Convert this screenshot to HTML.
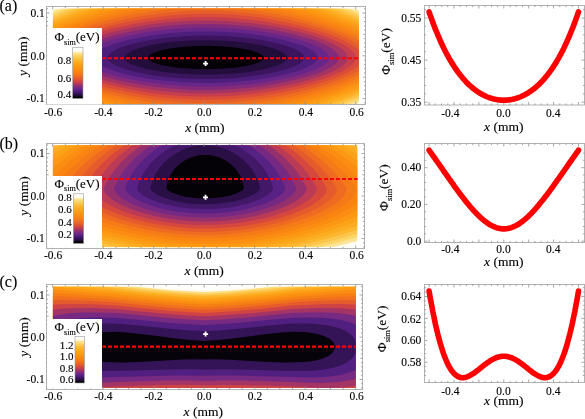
<!DOCTYPE html>
<html><head><meta charset="utf-8"><style>
html,body{margin:0;padding:0;background:#fff;}
svg{display:block;filter:blur(0.35px);}
text{font-family:"Liberation Serif",serif;fill:#000;stroke:#000;stroke-width:0.12px;}
</style></head><body>
<svg width="585" height="419" viewBox="0 0 585 419">
<defs><clipPath id="clipa"><rect x="52.8" y="8.5" width="306.2" height="95.5"/></clipPath>
<linearGradient id="cbga" x1="0" y1="0" x2="0" y2="1"><stop offset="0%" stop-color="#ffffff"/><stop offset="2.5%" stop-color="#fffdf8"/><stop offset="5%" stop-color="#fffcf2"/><stop offset="7.5%" stop-color="#fffaeb"/><stop offset="10%" stop-color="#fde8a1"/><stop offset="12.5%" stop-color="#fddf86"/><stop offset="15%" stop-color="#fdd66d"/><stop offset="17.5%" stop-color="#fcce5c"/><stop offset="20%" stop-color="#fcc64c"/><stop offset="22.5%" stop-color="#fcbe3c"/><stop offset="25%" stop-color="#fcb62e"/><stop offset="27.5%" stop-color="#fcb026"/><stop offset="30%" stop-color="#fcaa1e"/><stop offset="32.5%" stop-color="#fca418"/><stop offset="35%" stop-color="#fc9f16"/><stop offset="37.5%" stop-color="#fc9914"/><stop offset="40%" stop-color="#fb9413"/><stop offset="42.5%" stop-color="#fb8f12"/><stop offset="45%" stop-color="#fa8912"/><stop offset="47.5%" stop-color="#f98413"/><stop offset="50%" stop-color="#f77e16"/><stop offset="52.5%" stop-color="#f47819"/><stop offset="55%" stop-color="#f1701e"/><stop offset="57.5%" stop-color="#ed6724"/><stop offset="60%" stop-color="#e75e2a"/><stop offset="62.5%" stop-color="#e15531"/><stop offset="65%" stop-color="#d84a3c"/><stop offset="67.5%" stop-color="#cc4048"/><stop offset="70%" stop-color="#bb3b55"/><stop offset="72.5%" stop-color="#a73563"/><stop offset="75%" stop-color="#922f70"/><stop offset="77.5%" stop-color="#7f2b7c"/><stop offset="80%" stop-color="#702885"/><stop offset="82.5%" stop-color="#5f2489"/><stop offset="85%" stop-color="#501f7f"/><stop offset="87.5%" stop-color="#45196d"/><stop offset="90%" stop-color="#38145c"/><stop offset="92.5%" stop-color="#2b0f47"/><stop offset="95%" stop-color="#19092a"/><stop offset="97.5%" stop-color="#040207"/><stop offset="100%" stop-color="#000000"/></linearGradient>
<clipPath id="clipb"><rect x="52.8" y="145.3" width="304.7" height="102"/></clipPath>
<linearGradient id="cbgb" x1="0" y1="0" x2="0" y2="1"><stop offset="0%" stop-color="#ffffff"/><stop offset="2.5%" stop-color="#fffdf8"/><stop offset="5%" stop-color="#fffcf2"/><stop offset="7.5%" stop-color="#fffaeb"/><stop offset="10%" stop-color="#fde8a1"/><stop offset="12.5%" stop-color="#fddf86"/><stop offset="15%" stop-color="#fdd66d"/><stop offset="17.5%" stop-color="#fcce5c"/><stop offset="20%" stop-color="#fcc64c"/><stop offset="22.5%" stop-color="#fcbe3c"/><stop offset="25%" stop-color="#fcb62e"/><stop offset="27.5%" stop-color="#fcb026"/><stop offset="30%" stop-color="#fcaa1e"/><stop offset="32.5%" stop-color="#fca418"/><stop offset="35%" stop-color="#fc9f16"/><stop offset="37.5%" stop-color="#fc9914"/><stop offset="40%" stop-color="#fb9413"/><stop offset="42.5%" stop-color="#fb8f12"/><stop offset="45%" stop-color="#fa8912"/><stop offset="47.5%" stop-color="#f98413"/><stop offset="50%" stop-color="#f77e16"/><stop offset="52.5%" stop-color="#f47819"/><stop offset="55%" stop-color="#f1701e"/><stop offset="57.5%" stop-color="#ed6724"/><stop offset="60%" stop-color="#e75e2a"/><stop offset="62.5%" stop-color="#e15531"/><stop offset="65%" stop-color="#d84a3c"/><stop offset="67.5%" stop-color="#cc4048"/><stop offset="70%" stop-color="#bb3b55"/><stop offset="72.5%" stop-color="#a73563"/><stop offset="75%" stop-color="#922f70"/><stop offset="77.5%" stop-color="#7f2b7c"/><stop offset="80%" stop-color="#702885"/><stop offset="82.5%" stop-color="#5f2489"/><stop offset="85%" stop-color="#501f7f"/><stop offset="87.5%" stop-color="#45196d"/><stop offset="90%" stop-color="#38145c"/><stop offset="92.5%" stop-color="#2b0f47"/><stop offset="95%" stop-color="#19092a"/><stop offset="97.5%" stop-color="#040207"/><stop offset="100%" stop-color="#000000"/></linearGradient>
<clipPath id="clipc"><rect x="52.8" y="286.5" width="303" height="101.5"/></clipPath>
<linearGradient id="cbgc" x1="0" y1="0" x2="0" y2="1"><stop offset="0%" stop-color="#ffffff"/><stop offset="2.5%" stop-color="#fffdf8"/><stop offset="5%" stop-color="#fffcf2"/><stop offset="7.5%" stop-color="#fffaeb"/><stop offset="10%" stop-color="#fde8a1"/><stop offset="12.5%" stop-color="#fddf86"/><stop offset="15%" stop-color="#fdd66d"/><stop offset="17.5%" stop-color="#fcce5c"/><stop offset="20%" stop-color="#fcc64c"/><stop offset="22.5%" stop-color="#fcbe3c"/><stop offset="25%" stop-color="#fcb62e"/><stop offset="27.5%" stop-color="#fcb026"/><stop offset="30%" stop-color="#fcaa1e"/><stop offset="32.5%" stop-color="#fca418"/><stop offset="35%" stop-color="#fc9f16"/><stop offset="37.5%" stop-color="#fc9914"/><stop offset="40%" stop-color="#fb9413"/><stop offset="42.5%" stop-color="#fb8f12"/><stop offset="45%" stop-color="#fa8912"/><stop offset="47.5%" stop-color="#f98413"/><stop offset="50%" stop-color="#f77e16"/><stop offset="52.5%" stop-color="#f47819"/><stop offset="55%" stop-color="#f1701e"/><stop offset="57.5%" stop-color="#ed6724"/><stop offset="60%" stop-color="#e75e2a"/><stop offset="62.5%" stop-color="#e15531"/><stop offset="65%" stop-color="#d84a3c"/><stop offset="67.5%" stop-color="#cc4048"/><stop offset="70%" stop-color="#bb3b55"/><stop offset="72.5%" stop-color="#a73563"/><stop offset="75%" stop-color="#922f70"/><stop offset="77.5%" stop-color="#7f2b7c"/><stop offset="80%" stop-color="#702885"/><stop offset="82.5%" stop-color="#5f2489"/><stop offset="85%" stop-color="#501f7f"/><stop offset="87.5%" stop-color="#45196d"/><stop offset="90%" stop-color="#38145c"/><stop offset="92.5%" stop-color="#2b0f47"/><stop offset="95%" stop-color="#19092a"/><stop offset="97.5%" stop-color="#040207"/><stop offset="100%" stop-color="#000000"/></linearGradient></defs>
<rect width="585" height="419" fill="#fff"/>
<g clip-path="url(#clipa)">
<rect x="52.8" y="8.5" width="306.2" height="95.5" fill="#fffefb"/>
<path fill="#fffbf1" fill-rule="evenodd" d="M52.8 8.5L358.8 8.5 358.8 104 52.8 104 52.8 8.5Z"/>
<path fill="#fdeaa7" fill-rule="evenodd" d="M56 9L57.2 8.5 354.6 8.5 358.8 10.3 358.8 103.2 356.8 104 55 104 52.8 103.1 52.8 10.4 56 9Z"/>
<path fill="#fddb78" fill-rule="evenodd" d="M61.7 9L63 8.5 348.8 8.5 358.8 12.7 358.8 100.9 351.1 104 60.7 104 52.8 100.8 52.8 12.8 61.7 9Z"/>
<path fill="#fccd59" fill-rule="evenodd" d="M67.8 9L69.1 8.5 342.7 8.5 358.8 15.1 358.8 98.6 345.1 104 66.7 104 52.8 98.5 52.8 15.2 67.8 9Z"/>
<path fill="#fcbf3e" fill-rule="evenodd" d="M74.4 9L75.7 8.5 336.1 8.5 347.8 13 358.8 17.6 358.8 96.2 338.6 104 73.2 104 62.8 100.1 52.8 96.1 52.8 17.7 63.3 13.3 74.4 9Z"/>
<path fill="#fcb329" fill-rule="evenodd" d="M81.5 9L82.9 8.5 328.9 8.5 344.3 14.2 358.8 20.1 358.8 93.8 345.5 99 331.6 104 80.2 104 66.3 99 52.8 93.7 52.8 20.2 66.8 14.4 81.5 9Z"/>
<path fill="#fca91d" fill-rule="evenodd" d="M89.1 9L90.7 8.5 321.1 8.5 340.8 15.4 358.8 22.7 358.8 91.3 341.8 97.9 324 104 87.8 104 69.8 97.8 52.8 91.3 52.8 22.7 70.8 15.5 89.1 9Z"/>
<path fill="#fc9f16" fill-rule="evenodd" d="M97.6 9L99.2 8.5 312.6 8.5 314.2 9 325.8 12.7 337.3 16.7 348.3 20.9 358.8 25.3 358.8 88.8 348.3 93 337.8 96.8 326.8 100.5 315.6 104 96.2 104 92.3 102.8 81.8 99.5 71.8 96.1 62.2 92.5 52.8 88.7 52.8 25.4 63.3 21 74.3 16.8 85.8 12.8 97.6 9Z"/>
<path fill="#fc9613" fill-rule="evenodd" d="M107.1 9L108.9 8.5 302.9 8.5 316.3 12.4 327.8 16.1 338.8 20 349.3 24 358.8 28 358.8 86.2 346.8 91 333.8 95.6 320.3 100 306.3 104 105.5 104 90.3 99.6 80.3 96.4 70.4 93 61.3 89.6 52.8 86.2 52.8 28.1 65.3 22.9 78.8 17.9 92.8 13.2 107.1 9Z"/>
<path fill="#fa8d12" fill-rule="evenodd" d="M117.9 9L119.9 8.5 291.9 8.5 305.3 12 318.3 15.8 329.3 19.3 339.6 23 349.8 27 358.8 30.8 358.8 83.5 344.8 89.1 329.3 94.5 312.8 99.5 295.7 104 116.1 104 102.3 100.4 88.3 96.4 78.8 93.3 69.4 90 60.8 86.8 52.8 83.5 52.8 30.9 67.3 24.9 83.5 19 100.8 13.6 117.9 9Z"/>
<path fill="#f98413" fill-rule="evenodd" d="M130.6 9L133.1 8.5 278.7 8.5 289.3 10.8 299.8 13.4 310.3 16.2 320.8 19.4 331.3 22.8 341.3 26.4 350.3 30 358.8 33.8 358.8 80.7 351 84 342.3 87.3 333.3 90.5 323.8 93.6 313.8 96.5 303.8 99.2 293.3 101.8 283.2 104 128.6 104 117.8 101.6 107.3 99 96.3 96 86.2 93 68.6 87 60.3 83.8 52.8 80.6 52.8 33.9 60.8 30.3 69.8 26.7 79.3 23.3 89.3 19.9 99.3 16.9 109.8 13.9 120.3 11.3 130.6 9Z"/>
<path fill="#f57a18" fill-rule="evenodd" d="M146.7 9L149.8 8.5 262 8.5 277.8 11.3 293.3 14.7 308.8 18.7 324.3 23.4 333.8 26.6 342.9 30 351.4 33.5 358.8 36.9 358.8 77.7 350.1 81.5 339.7 85.5 328.3 89.4 316.8 92.9 304.8 96.2 292.3 99.2 279.8 101.8 267.7 104 144.1 104 128.8 101.2 113.3 97.8 98.3 93.8 83.3 89.3 74.9 86.5 66.7 83.5 59.3 80.5 52.8 77.6 52.8 37 62.3 32.7 72.8 28.5 84.1 24.5 96.3 20.6 108.8 17.1 121.3 14 133.8 11.3 146.7 9Z"/>
<path fill="#ef6d20" fill-rule="evenodd" d="M170.3 9L175.8 8.5 236 8.5 249.8 9.9 259.8 11.3 270.3 13 280.8 14.9 290.8 17.1 300.8 19.5 311.3 22.4 321.3 25.4 330.3 28.4 338.8 31.5 346.3 34.5 353.1 37.5 358.8 40.4 358.8 74.4 348.8 79 335.8 84 322.1 88.5 307.3 92.7 291.8 96.4 276.7 99.5 261.3 102 245.7 104 166.1 104 162.3 103.6 151.8 102.2 140.8 100.5 129.8 98.5 119.3 96.3 108.3 93.7 97.8 90.9 87.8 87.9 77.8 84.6 64.2 79.5 58.5 77 52.8 74.3 52.8 40.5 63.3 35.4 76.8 30 91.3 25.1 106.8 20.6 122.8 16.7 138.4 13.5 154.3 10.9 170.3 9Z"/>
<path fill="#e75e2a" fill-rule="evenodd" d="M200.2 10.5L216.8 10.6 233.8 11.5 250.8 13.2 268.3 15.7 285.8 19.1 302.8 23.1 319.8 28 334.8 33.1 342.1 36 348.8 39 354.3 41.8 358.8 44.4 358.8 70.5 353.4 73.5 347.8 76.1 341 79 332.9 82 324.3 84.9 315.6 87.5 306.3 90 296.3 92.5 276.8 96.5 257.3 99.6 247.3 100.8 237.8 101.7 218.8 102.8 200.3 103 181.8 102.3 163.3 100.7 144.8 98.2 125.8 94.7 107.3 90.5 89.5 85.5 81.3 82.8 73.4 80 67.1 77.5 61.5 75 56.5 72.5 52.8 70.4 52.8 44.6 57.1 42 63 39 69.7 36 77.3 33 85.8 30 94.8 27.1 103.8 24.5 113.8 21.9 123.8 19.5 142.8 15.8 152.3 14.4 162.3 13 171.8 12 181.3 11.3 190.8 10.8 200.2 10.5Z"/>
<path fill="#db4d39" fill-rule="evenodd" d="M191.5 14L207.3 13.7 222.8 14.1 238.3 15.1 254.3 16.8 270.3 19.2 285.8 22.2 301.3 25.8 316.1 30 329.6 34.5 341.3 39.2 346.1 41.5 350.7 44 354.3 46.3 357.3 48.5 358.8 49.9 358.8 65.3 355.4 68 351.4 70.5 346.3 73.2 340.1 76 333.3 78.7 325.3 81.5 317.2 84 308.3 86.5 289.8 90.9 270.8 94.5 251.3 97.3 232.3 99 214.8 99.8 197.3 99.8 179.4 99 161.8 97.4 143.9 95 126.3 91.8 108.8 87.9 92.3 83.3 78.3 78.6 67.2 74 62.3 71.6 58.7 69.5 55.7 67.5 52.8 65.1 52.8 50.1 54.5 48.5 57.2 46.5 61.3 43.9 66.8 41 73.3 38 80.9 35 88.8 32.2 97.3 29.5 106.3 26.9 115.8 24.5 134.3 20.5 153.3 17.4 172.3 15.2 181.8 14.5 191.5 14Z"/>
<path fill="#c53e4d" fill-rule="evenodd" d="M187.4 17.5L201.3 17.1 215.3 17.2 229.3 17.8 243.3 18.9 257.3 20.5 271.3 22.7 284.8 25.2 298.3 28.3 311.7 32 323.8 35.9 334.3 40 342.6 44 346 46 349 48 351.4 50 353.3 52 354.6 54 355.4 56 355.6 58 355.4 59.5 354.2 62 352.1 64.5 349.1 67 345.2 69.5 340.4 72 334.9 74.5 328.5 77 321.2 79.5 313.1 82 304.3 84.4 286.3 88.6 267.1 92 257.3 93.4 247.3 94.6 229.8 96 212.8 96.6 195.3 96.6 178.3 95.8 160.8 94.2 143.8 91.9 126.3 88.7 109.8 85 94.3 80.7 87.6 78.5 80.8 76 75.3 73.8 70.3 71.5 65.8 69 62.7 67 59.8 64.6 57.9 62.5 56.8 60.5 56.2 58.5 56.3 56.5 57.2 54 58.5 52 61 49.5 64.3 47 69.2 44 74.2 41.5 80.3 38.8 87.8 36 95.2 33.5 103.5 31 112.8 28.5 130.8 24.5 140.3 22.7 149.8 21.2 168.8 18.9 187.4 17.5Z"/>
<path fill="#a43464" fill-rule="evenodd" d="M200.1 20.5L212.8 20.5 225.8 21 238.8 21.9 251.3 23.1 264.3 24.9 276.8 27 288.9 29.5 301.2 32.5 311.8 35.6 321.9 39 330.5 42.5 337.3 46 342.5 49.5 344.3 51.1 345.9 53 346.8 54.5 347.5 56.5 347.6 58 347.4 59.5 346.3 61.8 344.4 64 341.4 66.5 337.3 69 332.4 71.5 326.8 73.9 320.8 76.1 313.4 78.5 305.8 80.7 297.3 82.9 279.8 86.6 261.3 89.6 242.3 91.8 225.3 93 208.3 93.4 191.3 93.2 174.3 92.2 157.2 90.5 139.8 88 123.3 84.9 107.8 81.2 93.7 77 87.8 74.9 81.8 72.6 77.3 70.5 73.3 68.3 69.7 66 67.4 64 65.7 62 64.6 60 64.2 58 64.4 56 65.2 54 66.7 52 68.8 49.9 72 47.5 76.2 45 81.3 42.5 87.3 40 94.1 37.5 101.8 35 109.8 32.7 118.6 30.5 127.3 28.5 145.3 25.2 163.3 22.8 181.8 21.2 200.1 20.5Z"/>
<path fill="#832b7a" fill-rule="evenodd" d="M200.4 24L212.8 24 224.8 24.4 236.8 25.2 248.8 26.3 260.8 27.9 272.3 29.7 284.1 32 294.8 34.5 305.3 37.4 314.3 40.3 322.4 43.5 328.5 46.5 331.3 48.2 333.8 49.9 335.6 51.5 337 53 338 54.5 338.6 56 338.8 57.5 338.7 59 337.9 61 336.3 63 333.5 65.5 330.4 67.5 325.8 69.9 320.9 72 315.6 74 308.8 76.2 294.3 80.1 277.8 83.6 260.3 86.4 242.3 88.5 226.3 89.6 209.8 90.1 193.3 89.9 176.8 89.1 160.8 87.6 144.8 85.5 128.8 82.6 114.3 79.3 100.8 75.5 90.3 71.8 86.3 70 82.3 68 79.1 66 76.3 63.8 74.6 62 73.4 60 73 58 73.2 56 74.1 54 75.7 52 77.9 50 80.7 48 84.8 45.7 89.4 43.5 95.3 41.1 101.3 39 115.3 34.9 131.8 31.2 148.8 28.2 165.8 26 183.3 24.6 200.4 24Z"/>
<path fill="#682688" fill-rule="evenodd" d="M188.3 28L200.8 27.6 212.8 27.7 224.8 28.1 236.8 28.8 248.8 30 260.5 31.5 272.3 33.4 283.3 35.6 293.8 38.2 303.5 41 311.8 44 318.5 47 323.5 50 325.4 51.5 326.9 53 327.9 54.5 328.6 56 328.9 57.5 328.7 59 327.9 61 326.3 62.9 324.4 64.5 321.3 66.5 317.5 68.5 312.9 70.5 302.8 74 289.7 77.5 275.3 80.5 259.8 83 244.3 84.8 229.3 85.9 214.3 86.5 199.3 86.6 184.3 86 169.3 85 154.3 83.3 139.8 81.1 126.3 78.5 114.2 75.5 102.9 72 94.3 68.5 90.8 66.7 88.1 65 85.8 63.2 84.3 61.5 83.3 59.7 82.9 58 83 56.5 83.9 54.5 85.3 52.6 87 51 89.8 49 93.3 47 97.6 45 102.6 43 113.3 39.5 126.8 36 141.8 33 156.8 30.7 172.3 29.1 188.3 28Z"/>
<path fill="#4e1e7d" fill-rule="evenodd" d="M198.7 31.5L209.3 31.4 220.3 31.7 231.3 32.3 241.8 33.1 252.3 34.3 262.8 35.8 272.5 37.5 281.8 39.5 289.8 41.5 297.9 44 304.5 46.5 309.6 49 313.5 51.5 316.1 54 316.8 55.1 317.3 56.5 317.5 58 317.3 59 316.3 61 315 62.5 312.8 64.2 309.9 66 306.8 67.5 302.3 69.4 292.8 72.5 280.8 75.5 267.8 78 254 80 239.3 81.5 224.8 82.5 210.8 82.9 196.3 82.8 182.3 82.2 167.8 81.1 154 79.5 141.3 77.5 128.8 75 117.4 72 108.8 69.1 101.9 66 99.4 64.5 97.4 63 95.9 61.5 94.9 60 94.4 58.5 94.5 56.5 95.1 55 96.3 53.3 98.3 51.5 100.5 50 103.8 48.1 107.3 46.5 111.8 44.7 117 43 127.8 40 140.8 37.2 154.3 35 168.8 33.2 183.8 32.1 198.7 31.5Z"/>
<path fill="#3a155e" fill-rule="evenodd" d="M187.8 36L198.3 35.6 208.3 35.6 218.8 35.8 228.8 36.3 238.3 37 248.3 38.1 258.3 39.5 267.1 41 275.3 42.7 282.8 44.7 289.8 47 294.8 49 298.8 51.2 301.8 53.5 302.8 54.6 303.6 56 304 57.5 303.9 58.5 303.3 60 302.3 61.3 301 62.5 298.9 64 296.1 65.5 292.8 66.9 285.4 69.5 275.8 72 265.3 74.1 253.1 76 240.3 77.4 227.8 78.4 215.3 78.9 202.8 79 190.3 78.7 178.3 78 165.8 76.9 154.3 75.4 143.2 73.5 133.8 71.5 124.8 69 117.9 66.5 112.8 63.9 110.8 62.5 109.2 61 108.3 59.7 107.9 58.5 107.9 57 108.3 55.7 109.1 54.5 110.5 53 112.5 51.5 115.1 50 121.8 47.1 129.7 44.5 139.8 42 150.8 39.9 162.8 38.1 174.8 36.9 187.8 36Z"/>
<path fill="#230d3a" fill-rule="evenodd" d="M191 40.5L208.3 40.2 225.8 40.8 242.3 42.2 250.3 43.3 257.5 44.5 264.7 46 270.5 47.5 275.3 49 280.2 51 283.3 52.7 285.5 54.5 286.4 55.5 286.9 56.5 287.1 57.5 287 58.5 286.3 60 285.4 61 282.6 63 277.1 65.5 270.8 67.5 262.8 69.4 254.2 71 244.3 72.4 234.3 73.4 223.8 74.1 213.3 74.5 202.3 74.6 191.8 74.3 181.3 73.7 171.3 72.8 160.8 71.5 152.3 70.1 144.8 68.5 137.7 66.5 132.2 64.5 128.4 62.5 125.9 60.5 125.2 59.5 124.7 58 124.8 56.9 125.4 55.5 127.4 53.5 129.3 52.2 131.6 51 136.5 49 143.1 47 151.7 45 160.3 43.5 170.3 42.1 180.8 41.1 191 40.5Z"/>
<path fill="#030106" fill-rule="evenodd" d="M196.4 46L208.8 45.8 221.3 46.3 232.8 47.3 243.3 48.8 251.8 50.6 255.8 51.9 258.6 53 260.8 54.1 262.6 55.5 263.3 56.5 263.6 58 262.9 59.5 261.1 61 258.2 62.5 253.8 64 248.3 65.4 242.4 66.5 235.3 67.5 227.8 68.3 212.3 69.1 196.3 69 181.1 68 173.8 67.2 167.3 66.1 161.8 65 156.4 63.5 152.5 62 150.3 60.8 149.3 60 148.5 59 148.1 57.5 148.8 56 150.4 54.5 153.2 53 157.1 51.5 162.3 50.1 167.3 49 173.8 47.9 181.3 47 188.3 46.4 196.4 46Z"/>
</g>
<rect x="46.5" y="6.5" width="319" height="98" fill="none" stroke="#b2b2b2" stroke-width="1"/>
<path d="M52.7 104.5v-3M52.7 6.5v3M65.3 104.5v-1.6M65.3 6.5v1.6M77.9 104.5v-1.6M77.9 6.5v1.6M90.6 104.5v-1.6M90.6 6.5v1.6M103.2 104.5v-3M103.2 6.5v3M115.8 104.5v-1.6M115.8 6.5v1.6M128.4 104.5v-1.6M128.4 6.5v1.6M141.1 104.5v-1.6M141.1 6.5v1.6M153.7 104.5v-3M153.7 6.5v3M166.3 104.5v-1.6M166.3 6.5v1.6M178.9 104.5v-1.6M178.9 6.5v1.6M191.6 104.5v-1.6M191.6 6.5v1.6M204.2 104.5v-3M204.2 6.5v3M216.8 104.5v-1.6M216.8 6.5v1.6M229.4 104.5v-1.6M229.4 6.5v1.6M242.1 104.5v-1.6M242.1 6.5v1.6M254.7 104.5v-3M254.7 6.5v3M267.3 104.5v-1.6M267.3 6.5v1.6M279.9 104.5v-1.6M279.9 6.5v1.6M292.6 104.5v-1.6M292.6 6.5v1.6M305.2 104.5v-3M305.2 6.5v3M317.8 104.5v-1.6M317.8 6.5v1.6M330.4 104.5v-1.6M330.4 6.5v1.6M343.1 104.5v-1.6M343.1 6.5v1.6M355.7 104.5v-3M355.7 6.5v3M46.5 8.7h1.5M365.5 8.7h-1.5M46.5 13h3M365.5 13h-3M46.5 17.3h1.5M365.5 17.3h-1.5M46.5 21.5h1.5M365.5 21.5h-1.5M46.5 25.8h1.5M365.5 25.8h-1.5M46.5 30.1h1.5M365.5 30.1h-1.5M46.5 34.4h2.2M365.5 34.4h-2.2M46.5 38.7h1.5M365.5 38.7h-1.5M46.5 43h1.5M365.5 43h-1.5M46.5 47.2h1.5M365.5 47.2h-1.5M46.5 51.5h1.5M365.5 51.5h-1.5M46.5 55.8h3M365.5 55.8h-3M46.5 60.1h1.5M365.5 60.1h-1.5M46.5 64.4h1.5M365.5 64.4h-1.5M46.5 68.6h1.5M365.5 68.6h-1.5M46.5 72.9h1.5M365.5 72.9h-1.5M46.5 77.2h2.2M365.5 77.2h-2.2M46.5 81.5h1.5M365.5 81.5h-1.5M46.5 85.8h1.5M365.5 85.8h-1.5M46.5 90.1h1.5M365.5 90.1h-1.5M46.5 94.3h1.5M365.5 94.3h-1.5M46.5 98.6h3M365.5 98.6h-3M46.5 102.9h1.5M365.5 102.9h-1.5" stroke="#909090" stroke-width="0.8" fill="none"/>
<rect x="47.1" y="28" width="54.9" height="76.5" fill="#fff"/>
<rect x="72.7" y="47.6" width="10.3" height="50.9" fill="url(#cbga)"/>
<rect x="72.7" y="47.6" width="10.3" height="50.9" fill="none" stroke="#999" stroke-width="0.6"/>
<text x="71.2" y="63.8" font-size="11" text-anchor="end">0.8</text>
<text x="71.2" y="81.9" font-size="11" text-anchor="end">0.6</text>
<text x="71.2" y="98.2" font-size="11" text-anchor="end">0.4</text>
<text x="54.5" y="41.3" font-size="13" text-anchor="start">&#934;<tspan font-size="8.1" dy="3.6">sim</tspan><tspan dy="-3.6">(eV)</tspan></text>
<path d="M102.5 58.3H359" stroke="#f00" stroke-width="2.1" stroke-dasharray="4 2" stroke-dashoffset="0.5" fill="none"/>
<path d="M203.1 63.6h5M205.6 61.1v5" stroke="#fff" stroke-width="1.8"/>
<text x="44.8" y="16.8" font-size="11.5" text-anchor="end">0.1</text>
<text x="44.8" y="59.7" font-size="11.5" text-anchor="end">0.0</text>
<text x="44.8" y="102.4" font-size="11.5" text-anchor="end">-0.1</text>
<text x="53.1" y="115.7" font-size="11.5" text-anchor="middle">-0.6</text>
<text x="103.3" y="115.7" font-size="11.5" text-anchor="middle">-0.4</text>
<text x="153.6" y="115.7" font-size="11.5" text-anchor="middle">-0.2</text>
<text x="204.2" y="115.7" font-size="11.5" text-anchor="middle">0.0</text>
<text x="255" y="115.7" font-size="11.5" text-anchor="middle">0.2</text>
<text x="305.9" y="115.7" font-size="11.5" text-anchor="middle">0.4</text>
<text x="356.6" y="115.7" font-size="11.5" text-anchor="middle">0.6</text>
<text x="204.9" y="132" font-size="13.5" text-anchor="middle"><tspan font-style="italic">x</tspan> (mm)</text>
<text x="27.5" y="56.2" font-size="13.5" text-anchor="middle" transform="rotate(-90 27.5 56.2)"><tspan font-style="italic">y</tspan> (mm)</text>
<g clip-path="url(#clipb)">
<rect x="52.8" y="145.3" width="304.7" height="102" fill="#fffef9"/>
<path fill="#fffbee" fill-rule="evenodd" d="M52.8 145.3L357.3 145.3 357.3 244.3 345.5 247.3 64.8 247.3 52.8 244.2 52.8 145.3Z"/>
<path fill="#fde496" fill-rule="evenodd" d="M52.8 145.3L357.3 145.3 357.3 240.9 344.6 244.3 332.5 247.3 77.8 247.3 65.7 244.3 52.8 240.8 52.8 145.3Z"/>
<path fill="#fdd569" fill-rule="evenodd" d="M52.8 145.3L357.3 145.3 357.3 237.3 338.3 242.6 319 247.3 91.3 247.3 71.8 242.6 52.8 237.3 52.8 145.3Z"/>
<path fill="#fcc64c" fill-rule="evenodd" d="M52.8 145.3L357.3 145.3 357.3 233.6 344.8 237.4 331.3 241.1 318.3 244.3 304.8 247.3 105.5 247.3 85.3 242.7 65.2 237.3 52.8 233.5 52.8 145.3Z"/>
<path fill="#fcb72f" fill-rule="evenodd" d="M52.8 145.3L357.3 145.3 357.3 229.7 341.3 234.8 324.3 239.6 306.8 243.8 289.5 247.3 120.8 247.3 110.3 245.2 99.2 242.8 78.3 237.5 65.7 233.8 52.8 229.6 52.8 145.3Z"/>
<path fill="#fcac21" fill-rule="evenodd" d="M59.1 145.8L60 145.3 350.3 145.3 357.3 149.1 357.3 225.5 347.8 228.9 337.4 232.3 327.2 235.3 316.1 238.3 305.3 240.9 294.4 243.3 283.3 245.4 272.2 247.3 138.1 247.3 125.8 245.2 113.5 242.8 101.3 240.1 89.3 237 70.3 231.5 52.8 225.4 52.8 149.2 59.1 145.8Z"/>
<path fill="#fca217" fill-rule="evenodd" d="M67.7 145.8L68.6 145.3 341.7 145.3 357.3 154.4 357.3 221 345.8 225.5 333.1 229.8 319.9 233.8 306.6 237.3 292.8 240.5 278.3 243.3 264.3 245.5 250.5 247.3 159.8 247.3 144.3 245.3 128.8 242.7 113.3 239.5 98.3 235.9 85.8 232.5 74.1 228.8 62.7 224.8 52.8 220.9 52.8 154.5 67.7 145.8Z"/>
<path fill="#fc9814" fill-rule="evenodd" d="M76 145.8L76.8 145.3 333.5 145.3 345.9 152.8 357.3 160.5 357.3 216 345.2 221.3 330.8 226.6 315.8 231.3 299.8 235.6 283.8 239.1 267.3 242.1 250.8 244.4 234.3 245.9 218.8 246.8 202.8 247 187.3 246.6 171.3 245.6 155.3 243.8 139.3 241.5 123.3 238.4 107.8 234.9 92.8 230.8 78.3 226.2 65.1 221.3 52.8 215.9 52.8 160.6 63.6 153.3 76 145.8Z"/>
<path fill="#fb8e12" fill-rule="evenodd" d="M84 145.8L84.9 145.3 325.4 145.3 335 151.3 343.1 156.8 350.6 162.3 357.3 167.8 357.3 210.4 346.7 215.8 333.8 221.3 319.8 226.2 305.3 230.6 289.8 234.5 273.8 237.8 257.8 240.4 241.3 242.4 225.8 243.6 210.3 244.1 195.3 244.1 179.8 243.3 164.3 241.9 148.8 239.9 133.3 237.2 117.8 233.9 107.8 231.4 98.8 228.8 90.3 226.2 81.8 223.2 73.8 220.2 65.8 216.8 58.8 213.5 52.8 210.2 52.8 168 59.7 162.3 67.2 156.8 75.3 151.3 84 145.8Z"/>
<path fill="#f98412" fill-rule="evenodd" d="M92 145.8L92.8 145.3 317.5 145.3 329.7 153.3 340.4 161.3 349.6 169.3 357.3 177.1 357.3 203.3 353.3 206.2 349.2 208.8 344.3 211.5 338.7 214.3 326.8 219.5 313.3 224.3 298.4 228.8 282.8 232.7 267 235.8 250.8 238.3 235.8 239.9 220.3 240.9 205.3 241.2 190.3 240.9 174.8 239.9 159.8 238.3 144.3 236 129.3 233 117.6 230.3 105.8 227.1 94.8 223.6 84.4 219.8 74.8 215.8 66.6 211.8 58.7 207.3 52.8 203.2 52.8 177.3 60.7 169.3 69.9 161.3 79.9 153.8 92 145.8Z"/>
<path fill="#f57a18" fill-rule="evenodd" d="M99.9 145.8L100.6 145.3 309.7 145.3 318.6 151.3 326.7 157.3 334 163.3 340.5 169.3 347.5 176.8 354.2 185.3 356.3 188.3 356.6 189.8 356.5 191.3 355.6 193.8 354.1 196.3 351.9 198.8 348.7 201.8 344.7 204.8 340.3 207.7 335.6 210.3 329.7 213.3 323.3 216.2 316.7 218.8 302.3 223.8 286.8 228.1 270.5 231.8 254.8 234.5 239.3 236.5 223.8 237.7 208.3 238.2 192.8 238 177.3 237.1 161.8 235.4 146.3 233 130.4 229.8 114.8 225.8 100.5 221.3 87.3 216.3 81.3 213.6 75.6 210.8 70.8 208.1 66.3 205.3 62.3 202.4 59.4 199.8 56.6 196.8 54.9 194.3 54.1 192.3 53.7 190.8 53.7 189.3 54 188.3 59.9 180.3 65.9 173.3 73 166.3 81.1 159.3 89.6 152.8 99.9 145.8Z"/>
<path fill="#ef6b21" fill-rule="evenodd" d="M107.8 145.8L108.5 145.3 301.8 145.3 310.5 151.3 317.7 156.8 324.2 162.3 330.5 168.3 336.9 175.3 342.7 182.8 346.4 188.3 346.6 189.3 346.5 190.8 345.7 193.3 344.2 195.8 342.1 198.3 338.8 201.3 335.3 204 330.9 206.8 326.5 209.3 321.3 211.9 315.8 214.4 309.3 217 295.5 221.8 281.3 225.8 265.5 229.3 250.8 231.8 235.8 233.6 220.8 234.7 206.3 235.1 191.3 234.8 176.3 233.8 161.3 232.1 146.8 229.7 132.3 226.6 118.1 222.8 104.8 218.5 93.1 213.8 87.7 211.3 82.8 208.8 78.3 206.1 74.1 203.3 70.9 200.8 68.2 198.3 66.1 195.8 64.6 193.3 64 191.8 63.7 190.3 63.8 188.8 64.2 187.8 70.2 179.3 76.5 171.8 82.9 165.3 90.2 158.8 98.5 152.3 107.8 145.8Z"/>
<path fill="#e55b2c" fill-rule="evenodd" d="M115.7 145.8L116.5 145.3 293.8 145.3 301.6 150.8 309.3 156.8 315.5 162.3 321.6 168.3 327.6 175.3 333.1 182.8 336.5 188.3 336.7 189.3 336.6 190.8 335.6 193.3 334 195.8 331.8 198.3 329 200.8 325.6 203.3 321.7 205.8 317.3 208.3 311.8 211 306.6 213.3 300.3 215.8 287.3 220.2 273.3 224 258.8 227 244.8 229.3 230.8 230.8 216.3 231.7 202.3 231.9 188.3 231.4 174.3 230.3 160.3 228.5 146.3 226 132.8 222.9 120.2 219.3 108.7 215.3 98 210.8 89.3 206.2 85.4 203.8 82 201.3 79.3 199 77.1 196.8 75.2 194.3 74.2 192.3 73.6 189.8 73.7 188.8 74 187.8 77.2 182.8 80.4 178.3 83.5 174.3 86.9 170.3 93.2 163.8 99.8 157.8 107.3 151.8 115.7 145.8Z"/>
<path fill="#d6483e" fill-rule="evenodd" d="M123.8 145.8L124.6 145.3 285.7 145.3 293.4 150.8 300.8 156.8 306.8 162.3 312.6 168.3 318.4 175.3 323.5 182.8 326.6 188.3 326.8 189.3 326.6 190.8 325.8 192.8 324.2 195.3 321.9 197.8 319 200.3 315.5 202.8 311.5 205.3 302.7 209.8 291.7 214.3 279.4 218.3 266.3 221.7 252.8 224.5 239.8 226.4 226.3 227.8 212.8 228.5 199.3 228.5 185.8 227.9 172.3 226.6 159.3 224.8 146.3 222.2 134.4 219.3 123.8 216.1 113.4 212.3 104.4 208.3 96.8 204.1 93.3 201.8 90.7 199.8 87.9 197.3 86.1 195.3 84.8 193.3 83.9 191.3 83.5 189.8 83.7 188.3 85.6 184.8 91.2 176.3 97.2 168.8 102.9 162.8 108.9 157.3 116.3 151.3 123.8 145.8Z"/>
<path fill="#bb3b56" fill-rule="evenodd" d="M132.2 145.8L132.9 145.3 277.4 145.3 284.9 150.8 291.6 156.3 297.5 161.8 302.7 167.3 307.9 173.8 312.6 180.8 316.5 187.8 316.8 188.8 316.6 190.3 315.9 192.3 314.2 194.8 312.3 196.8 309.5 199.3 306.3 201.6 302.8 203.8 298.3 206.2 293.9 208.3 283.8 212.4 271.8 216.2 259.5 219.3 246.8 221.7 234.3 223.5 221.8 224.6 209.3 225.1 196.3 225 183.3 224.2 170.8 222.8 158.3 220.8 146.5 218.3 135.8 215.4 126.3 212.3 117.5 208.8 110.2 205.3 104.3 201.8 99 197.8 97 195.8 95.4 193.8 94.2 191.8 93.7 190.3 93.5 188.8 93.8 187.8 97.4 181.3 102 174.3 107.2 167.8 112.3 162.3 118.1 156.8 124.8 151.3 132.2 145.8Z"/>
<path fill="#95306e" fill-rule="evenodd" d="M141 145.8L141.7 145.3 268.6 145.3 275.5 150.3 282.2 155.8 288 161.3 293.5 167.3 298.4 173.8 302.8 180.8 306.4 187.8 306.6 188.8 306.4 190.3 305.4 192.3 304 194.3 301.8 196.6 299.1 198.8 292.8 202.8 284.3 207 274.3 210.8 263.8 214 252 216.8 239.8 219 228.3 220.4 216.3 221.2 204.3 221.5 192.8 221.2 181.3 220.3 169.3 218.8 157.8 216.7 146.8 214.1 138.3 211.6 130.3 208.7 123.3 205.8 116.6 202.3 111.8 199.2 107.7 195.8 105.9 193.8 104.9 192.3 104.1 190.8 103.7 189.3 103.9 187.8 106.4 182.8 109 178.3 112.9 172.3 117.2 166.8 122.3 161.3 128.1 155.8 134.2 150.8 141 145.8Z"/>
<path fill="#752983" fill-rule="evenodd" d="M150.4 145.8L151.2 145.3 259.1 145.3 266.1 150.3 272.3 155.3 278.1 160.8 283.1 166.3 287.6 172.3 291.6 178.8 293.7 182.8 295.9 187.8 296.1 188.8 295.9 189.8 295.3 191.3 293.9 193.3 292 195.3 289.3 197.5 286.7 199.3 283.3 201.3 279.4 203.3 274.9 205.3 265.8 208.6 255.8 211.5 245.3 213.9 233.8 215.8 222.8 217 211.8 217.6 200.8 217.6 189.8 217.1 178.8 216.1 167.8 214.4 157.6 212.3 147.8 209.7 140.6 207.3 134.2 204.8 128.8 202.2 123.6 199.3 119.5 196.3 116.4 193.3 114.8 190.8 114.3 189.3 114.2 188.3 116.9 182.3 120.1 176.3 123.7 170.8 128.1 165.3 132.7 160.3 138 155.3 144.2 150.3 150.4 145.8Z"/>
<path fill="#582184" fill-rule="evenodd" d="M161 145.8L161.8 145.3 248.5 145.3 255.8 150.2 262.3 155.3 268.1 160.8 273 166.3 277.4 172.3 281.1 178.8 283 182.8 285 187.8 285.1 188.8 284.8 189.8 284 191.3 282.4 193.3 280.3 195.2 278.1 196.8 272.1 200.3 264.3 203.7 255.8 206.6 246.3 209.1 236.3 211.1 226.3 212.4 216.3 213.3 206.3 213.6 195.8 213.4 185.8 212.6 175.8 211.4 166.3 209.6 156.8 207.3 148.8 204.8 143.7 202.8 139.3 200.8 135.4 198.8 132.2 196.8 129.3 194.6 127 192.3 125.7 190.3 125.3 189.3 125.2 188.3 127.5 182.3 130.5 176.3 133.9 170.8 138.1 165.3 143.2 159.8 148.6 154.8 154.3 150.3 161 145.8Z"/>
<path fill="#421868" fill-rule="evenodd" d="M173.8 145.8L174.8 145.3 235.5 145.3 242.6 149.3 249.3 154 255.6 159.3 260.8 164.8 265.3 170.8 268.8 176.8 270.9 181.3 272.5 185.8 273.3 188.3 273 189.3 272.2 190.8 270.9 192.3 267.1 195.3 261.3 198.5 254.3 201.4 246.8 203.8 237.8 206 228.8 207.5 219.3 208.6 210.3 209.1 200.8 209.1 191.8 208.6 182.8 207.7 173.8 206.2 165.3 204.3 157.3 201.9 150.7 199.3 145.8 196.9 142.3 194.7 139.4 192.3 137.5 189.8 137.1 188.8 137.1 187.8 139.9 180.3 142.3 175.3 145.3 170.3 148.7 165.8 152.8 161.2 157.5 156.8 162.5 152.8 167.8 149.2 173.8 145.8Z"/>
<path fill="#290f45" fill-rule="evenodd" d="M195.9 145.8L199.4 145.3 210.9 145.3 217.3 146.4 222.3 147.9 227.8 150 232.8 152.6 237.8 155.7 242.5 159.3 246.8 163.3 250.3 167.3 253.4 171.8 256.4 177.3 258.6 182.8 260 187.8 259.9 188.8 259.4 189.8 258.3 191 256.8 192.3 252.3 195.1 246.8 197.5 240.3 199.7 233.3 201.4 225.4 202.8 217.3 203.7 209.3 204.2 201.3 204.2 193.3 203.8 185.3 202.9 177.8 201.6 170.5 199.8 164.3 197.8 158.4 195.3 154.2 192.8 151.8 190.8 150.4 188.8 150.3 187.8 151 185.3 152.8 179.8 155.4 174.3 158.5 169.3 162.2 164.8 165.6 161.3 169.3 158.1 173.3 155.2 177.8 152.4 182.3 150.1 186.8 148.3 191.3 146.8 195.9 145.8Z"/>
<path fill="#040207" fill-rule="evenodd" d="M199.4 155.3L203.3 154.9 207.3 154.9 210.9 155.3 214.8 156.1 218.7 157.3 222.3 158.8 226 160.8 229.3 163 232.3 165.5 235 168.3 237.4 171.3 239.6 174.8 241.3 178.3 242.7 182.3 243.9 187.8 243.7 188.8 242.2 190.3 238.8 192.3 235.3 193.8 230.3 195.4 224.8 196.6 219.3 197.5 213.3 198.1 207.3 198.4 201.3 198.4 195.3 198 189.4 197.3 184.3 196.4 179.7 195.3 175 193.8 171.3 192.2 168.1 190.3 166.6 188.8 166.4 187.8 167.2 183.8 168.1 180.8 169.4 177.3 171 174.3 172.9 171.3 175.3 168.3 177.7 165.8 180.3 163.6 182.8 161.8 186 159.8 189.3 158.2 192.8 156.9 196.3 155.9 199.4 155.3Z"/>
</g>
<rect x="46.5" y="143.5" width="318" height="105" fill="none" stroke="#b2b2b2" stroke-width="1"/>
<path d="M52.7 248.5v-3M52.7 143.5v3M65.3 248.5v-1.6M65.3 143.5v1.6M77.9 248.5v-1.6M77.9 143.5v1.6M90.6 248.5v-1.6M90.6 143.5v1.6M103.2 248.5v-3M103.2 143.5v3M115.8 248.5v-1.6M115.8 143.5v1.6M128.4 248.5v-1.6M128.4 143.5v1.6M141.1 248.5v-1.6M141.1 143.5v1.6M153.7 248.5v-3M153.7 143.5v3M166.3 248.5v-1.6M166.3 143.5v1.6M178.9 248.5v-1.6M178.9 143.5v1.6M191.6 248.5v-1.6M191.6 143.5v1.6M204.2 248.5v-3M204.2 143.5v3M216.8 248.5v-1.6M216.8 143.5v1.6M229.4 248.5v-1.6M229.4 143.5v1.6M242.1 248.5v-1.6M242.1 143.5v1.6M254.7 248.5v-3M254.7 143.5v3M267.3 248.5v-1.6M267.3 143.5v1.6M279.9 248.5v-1.6M279.9 143.5v1.6M292.6 248.5v-1.6M292.6 143.5v1.6M305.2 248.5v-3M305.2 143.5v3M317.8 248.5v-1.6M317.8 143.5v1.6M330.4 248.5v-1.6M330.4 143.5v1.6M343.1 248.5v-1.6M343.1 143.5v1.6M355.7 248.5v-3M355.7 143.5v3M46.5 145h1.5M364.5 145h-1.5M46.5 149.2h1.5M364.5 149.2h-1.5M46.5 153.5h3M364.5 153.5h-3M46.5 157.8h1.5M364.5 157.8h-1.5M46.5 162h1.5M364.5 162h-1.5M46.5 166.2h1.5M364.5 166.2h-1.5M46.5 170.5h1.5M364.5 170.5h-1.5M46.5 174.8h2.2M364.5 174.8h-2.2M46.5 179h1.5M364.5 179h-1.5M46.5 183.2h1.5M364.5 183.2h-1.5M46.5 187.5h1.5M364.5 187.5h-1.5M46.5 191.8h1.5M364.5 191.8h-1.5M46.5 196h3M364.5 196h-3M46.5 200.2h1.5M364.5 200.2h-1.5M46.5 204.5h1.5M364.5 204.5h-1.5M46.5 208.8h1.5M364.5 208.8h-1.5M46.5 213h1.5M364.5 213h-1.5M46.5 217.2h2.2M364.5 217.2h-2.2M46.5 221.5h1.5M364.5 221.5h-1.5M46.5 225.8h1.5M364.5 225.8h-1.5M46.5 230h1.5M364.5 230h-1.5M46.5 234.2h1.5M364.5 234.2h-1.5M46.5 238.5h3M364.5 238.5h-3M46.5 242.8h1.5M364.5 242.8h-1.5M46.5 247h1.5M364.5 247h-1.5" stroke="#909090" stroke-width="0.8" fill="none"/>
<rect x="47.1" y="176" width="54.9" height="71.8" fill="#fff"/>
<rect x="73.3" y="193.8" width="10.4" height="49.6" fill="url(#cbgb)"/>
<rect x="73.3" y="193.8" width="10.4" height="49.6" fill="none" stroke="#999" stroke-width="0.6"/>
<text x="71.8" y="200.8" font-size="11" text-anchor="end">0.8</text>
<text x="71.8" y="213.3" font-size="11" text-anchor="end">0.6</text>
<text x="71.8" y="225.8" font-size="11" text-anchor="end">0.4</text>
<text x="71.8" y="238.4" font-size="11" text-anchor="end">0.2</text>
<text x="54.5" y="187.5" font-size="13" text-anchor="start">&#934;<tspan font-size="8.1" dy="3.6">sim</tspan><tspan dy="-3.6">(eV)</tspan></text>
<path d="M102.5 179H357.5" stroke="#f00" stroke-width="2.1" stroke-dasharray="4 2" stroke-dashoffset="0.5" fill="none"/>
<path d="M203 197.3h5M205.5 194.8v5" stroke="#fff" stroke-width="1.8"/>
<text x="44.8" y="157.4" font-size="11.5" text-anchor="end">0.1</text>
<text x="44.8" y="199.9" font-size="11.5" text-anchor="end">0.0</text>
<text x="44.8" y="242.4" font-size="11.5" text-anchor="end">-0.1</text>
<text x="53.1" y="259.3" font-size="11.5" text-anchor="middle">-0.6</text>
<text x="103.3" y="259.3" font-size="11.5" text-anchor="middle">-0.4</text>
<text x="153.6" y="259.3" font-size="11.5" text-anchor="middle">-0.2</text>
<text x="204.2" y="259.3" font-size="11.5" text-anchor="middle">0.0</text>
<text x="255" y="259.3" font-size="11.5" text-anchor="middle">0.2</text>
<text x="305.9" y="259.3" font-size="11.5" text-anchor="middle">0.4</text>
<text x="356.6" y="259.3" font-size="11.5" text-anchor="middle">0.6</text>
<text x="204.2" y="275" font-size="13.5" text-anchor="middle"><tspan font-style="italic">x</tspan> (mm)</text>
<text x="27.5" y="196" font-size="13.5" text-anchor="middle" transform="rotate(-90 27.5 196)"><tspan font-style="italic">y</tspan> (mm)</text>
<g clip-path="url(#clipc)">
<rect x="52.8" y="286.5" width="303" height="101.5" fill="#fffef9"/>
<path fill="#fffaeb" fill-rule="evenodd" d="M52.8 286.5L149.4 286.5 177.3 289 204.3 290.4 231.3 289 259.2 286.5 355.8 286.5 355.8 388 52.8 388 52.8 286.5Z"/>
<path fill="#fddc7d" fill-rule="evenodd" d="M52.8 286.5L134 286.5 153.3 288.6 170.8 290.2 187.8 291.3 204.3 292.1 220.8 291.3 237.8 290.2 255.3 288.6 274.6 286.5 355.8 286.5 355.8 388 52.8 388 52.8 286.5Z"/>
<path fill="#fcc851" fill-rule="evenodd" d="M52.8 286.5L119.2 286.5 142.3 289.2 163.8 291.3 184.3 292.9 204.3 293.9 224.3 292.9 244.8 291.3 266.3 289.2 289.4 286.5 355.8 286.5 355.8 388 52.8 388 52.8 286.5Z"/>
<path fill="#fcb62d" fill-rule="evenodd" d="M52.8 286.5L99.9 286.5 115.8 288 140.3 290.9 162.8 293.1 183.8 294.7 204.3 295.7 224.8 294.7 245.8 293.1 268.3 290.9 292.8 288 308.7 286.5 355.8 286.5 355.8 388 52.8 388 52.8 286.5Z"/>
<path fill="#fca71b" fill-rule="evenodd" d="M52.8 286.5L78 286.5 115.8 290 140.3 292.9 162.3 295.1 183.8 296.7 204.3 297.7 224.8 296.7 246.3 295.1 268.3 292.9 292.8 290 330.6 286.5 355.8 286.5 355.8 388 52.8 388 52.8 286.5Z"/>
<path fill="#fc9a14" fill-rule="evenodd" d="M52.8 287L52.8 286.7 115.8 292.2 142.8 295.2 165.3 297.4 184.8 298.8 204.3 299.8 224.3 298.8 244.8 297.3 266.3 295.2 292.8 292.2 355.8 286.7 355.8 388 52.8 388 52.8 287Z"/>
<path fill="#fb8e12" fill-rule="evenodd" d="M52.8 290L52.8 289.6 63.8 290.3 115.8 294.5 146.3 297.8 170.8 300.1 187.8 301.2 204.3 302 222.3 301.2 240.8 299.8 263.8 297.7 292.8 294.5 329.3 291.5 355.8 289.6 355.8 388 52.8 388 52.8 290Z"/>
<path fill="#f78015" fill-rule="evenodd" d="M52.8 293L52.8 292.8 67.8 293.5 97.6 295.5 115.8 296.9 145.3 300.1 166.8 302.1 186.3 303.5 204.3 304.4 223.3 303.5 242.3 302.1 263.3 300.1 292.8 296.9 304.4 296 332.8 294 355.8 292.8 355.8 388 52.8 388 52.8 293Z"/>
<path fill="#f1701e" fill-rule="evenodd" d="M52.8 296.5L52.8 296.3 54.8 296.3 70.8 296.7 101.4 298.5 115.8 299.5 146.3 302.8 167.8 304.8 186.8 306.1 204.3 307 222.3 306.1 241.3 304.7 262.8 302.7 292.8 299.5 303.8 298.7 332.8 297 355.8 296.3 355.8 388 52.8 388 52.8 296.5Z"/>
<path fill="#e55b2c" fill-rule="evenodd" d="M52.8 300.5L52.8 300.2 55.3 300.1 70.8 300.1 84.8 300.6 101.8 301.5 115.8 302.4 148.3 305.8 169.3 307.7 186.8 308.9 204.3 309.8 221.8 308.9 239.3 307.7 260.3 305.8 292.8 302.4 304.3 301.6 319.8 300.8 333.3 300.2 345.3 300 355.8 300.2 355.8 388 52.8 388 52.8 300.5Z"/>
<path fill="#cf4345" fill-rule="evenodd" d="M63.5 304L73.8 303.9 85.8 304.1 98.8 304.6 115.1 305.5 168.3 310.7 187.3 312.1 204.3 312.9 220.8 312.1 238.3 310.8 257.3 309.2 292.8 305.5 304.3 304.9 319.8 304.2 333.3 303.9 345.3 304 355.8 304.6 355.8 388 52.8 388 52.8 304.6 63.5 304Z"/>
<path fill="#a33465" fill-rule="evenodd" d="M75.2 308L93.3 308.1 115.8 309.1 169.8 314.2 187.8 315.5 204.3 316.3 219.3 315.6 234.8 314.6 254.3 312.9 292.3 309.1 304.8 308.4 320.3 308 333.8 308 345.3 308.6 355.8 309.7 355.8 385.8 349.3 386.7 342.3 387.4 334.8 387.7 326.3 387.9 312.3 387.6 292.8 386.6 258.8 385.4 233.3 384.9 218.8 384.9 204.3 385.3 184.8 384.8 164.3 385 116.3 386.6 98.8 387.5 84.3 387.9 75.3 387.8 67.3 387.4 59.8 386.8 52.8 385.8 52.8 309.7 63.3 308.6 75.2 308Z"/>
<path fill="#772a82" fill-rule="evenodd" d="M81.7 312.5L97.3 312.4 115.8 313.1 171.3 318.3 188.8 319.6 204.3 320.3 217.8 319.7 232.3 318.7 249.8 317.2 292.3 313.1 305.3 312.5 320.8 312.4 333.8 312.8 345.3 314 354.8 315.8 355.8 316 355.8 378.9 348.3 380.6 339.3 381.9 329.3 382.6 318.3 382.9 306.8 382.7 292.8 382.1 249.8 380.8 226.8 380.5 204.3 380.9 186.8 380.5 168.3 380.6 115.8 382.1 100.8 382.8 87.3 382.9 78.3 382.6 69.8 381.9 62.3 380.9 55.3 379.5 52.8 378.9 52.8 316 58.8 314.7 65.8 313.7 73.3 312.9 81.7 312.5Z"/>
<path fill="#511f80" fill-rule="evenodd" d="M91.2 317.5L102.8 317.4 115.8 317.7 174.3 323.2 189.8 324.3 204.3 325 218.8 324.3 233.8 323.3 281.3 318.7 294.3 317.7 308.8 317.4 321.3 317.7 332 318.5 341.3 319.9 349.3 322 355.8 324.5 355.8 369.9 352.1 371.5 347.7 373 343.3 374.2 338.3 375.2 332.8 376.1 326.8 376.7 313.8 377.4 301.8 377.3 235.8 375.5 219.8 375.5 204.3 375.8 183.3 375.5 165.8 375.7 128.3 376.8 96.8 377.4 88.8 377.2 81.8 376.7 75.1 376 68.8 375 64.5 374 60.3 372.8 56.5 371.5 52.8 369.9 52.8 324.5 56.3 323 60.3 321.7 64.7 320.5 69.3 319.6 79.3 318.2 91.2 317.5Z"/>
<path fill="#341357" fill-rule="evenodd" d="M102.1 323.5L113.8 323.5 120.8 323.9 133.8 325 176.8 329.4 190.8 330.5 204.3 331.1 217.8 330.5 231.3 329.4 275.2 325 292.3 323.6 300.3 323.4 308.3 323.5 315.3 323.9 321.8 324.5 330.8 325.9 334.8 326.9 338.6 328 341.8 329.2 344.8 330.6 347.3 332 350 334 351.8 335.6 353.5 337.5 354.8 339.5 355.8 341.4 355.8 352.5 354.8 354.5 353.8 356.1 352.3 357.9 350.7 359.5 346.6 362.5 341.8 364.9 336.1 367 329.8 368.6 322.3 369.8 314.3 370.5 302.8 370.9 282.8 370.8 239.8 369.4 223.3 369.2 204.3 369.5 191.3 369.2 177.3 369.2 131.8 370.6 108.8 370.9 97.8 370.7 87.8 370 78.4 368.5 70.8 366.5 66.9 365 63.8 363.5 61.2 362 58.8 360.2 56.9 358.5 55.1 356.5 53.8 354.5 52.8 352.5 52.8 341.4 53.8 339.5 55.1 337.5 56.8 335.6 58.6 334 60.6 332.5 63.1 331 68.8 328.4 75.2 326.5 82.8 325 91.8 324 102.1 323.5Z"/>
<path fill="#07030b" fill-rule="evenodd" d="M106.9 332L116.3 331.8 129.3 332.7 145.3 334.5 182.3 339.3 193.8 340.3 204.3 340.9 214.8 340.3 226.3 339.3 266.3 334.1 280.8 332.6 292.8 331.8 303.8 332.1 310.8 332.8 316.8 333.9 321.8 335.2 326.4 337 329.9 339 331.7 340.5 332.8 341.7 333.7 343 334.4 344.5 334.8 346 334.8 347.5 334.6 349 334 350.5 332.2 353 329.3 355.4 325.8 357.3 321.3 359 315.8 360.4 309.8 361.4 303.1 362 287.3 362.4 275.8 362.3 262.8 361.7 230.8 359.8 213.8 359.3 204.3 359.5 192.8 359.3 182.8 359.5 143.8 361.8 130.8 362.3 120.3 362.4 104.8 362 97.8 361.2 91.8 360.2 86.8 358.8 82.2 357 78.7 355 76.9 353.5 75.8 352.3 74.9 351 74.2 349.5 73.8 348 73.8 346.5 74 345 74.6 343.5 76.4 341 79.5 338.5 83.3 336.5 87.8 334.9 93.5 333.5 99.8 332.6 106.9 332Z"/>
</g>
<rect x="46.5" y="284.5" width="316" height="105" fill="none" stroke="#b2b2b2" stroke-width="1"/>
<path d="M52.7 389.5v-3M52.7 284.5v3M65.3 389.5v-1.6M65.3 284.5v1.6M77.9 389.5v-1.6M77.9 284.5v1.6M90.6 389.5v-1.6M90.6 284.5v1.6M103.2 389.5v-3M103.2 284.5v3M115.8 389.5v-1.6M115.8 284.5v1.6M128.4 389.5v-1.6M128.4 284.5v1.6M141.1 389.5v-1.6M141.1 284.5v1.6M153.7 389.5v-3M153.7 284.5v3M166.3 389.5v-1.6M166.3 284.5v1.6M178.9 389.5v-1.6M178.9 284.5v1.6M191.6 389.5v-1.6M191.6 284.5v1.6M204.2 389.5v-3M204.2 284.5v3M216.8 389.5v-1.6M216.8 284.5v1.6M229.4 389.5v-1.6M229.4 284.5v1.6M242.1 389.5v-1.6M242.1 284.5v1.6M254.7 389.5v-3M254.7 284.5v3M267.3 389.5v-1.6M267.3 284.5v1.6M279.9 389.5v-1.6M279.9 284.5v1.6M292.6 389.5v-1.6M292.6 284.5v1.6M305.2 389.5v-3M305.2 284.5v3M317.8 389.5v-1.6M317.8 284.5v1.6M330.4 389.5v-1.6M330.4 284.5v1.6M343.1 389.5v-1.6M343.1 284.5v1.6M355.7 389.5v-3M355.7 284.5v3M46.5 286.6h1.5M362.5 286.6h-1.5M46.5 290.8h1.5M362.5 290.8h-1.5M46.5 295h3M362.5 295h-3M46.5 299.2h1.5M362.5 299.2h-1.5M46.5 303.4h1.5M362.5 303.4h-1.5M46.5 307.7h1.5M362.5 307.7h-1.5M46.5 311.9h1.5M362.5 311.9h-1.5M46.5 316.1h2.2M362.5 316.1h-2.2M46.5 320.4h1.5M362.5 320.4h-1.5M46.5 324.6h1.5M362.5 324.6h-1.5M46.5 328.8h1.5M362.5 328.8h-1.5M46.5 333h1.5M362.5 333h-1.5M46.5 337.2h3M362.5 337.2h-3M46.5 341.5h1.5M362.5 341.5h-1.5M46.5 345.7h1.5M362.5 345.7h-1.5M46.5 349.9h1.5M362.5 349.9h-1.5M46.5 354.1h1.5M362.5 354.1h-1.5M46.5 358.4h2.2M362.5 358.4h-2.2M46.5 362.6h1.5M362.5 362.6h-1.5M46.5 366.8h1.5M362.5 366.8h-1.5M46.5 371.1h1.5M362.5 371.1h-1.5M46.5 375.3h1.5M362.5 375.3h-1.5M46.5 379.5h3M362.5 379.5h-3M46.5 383.7h1.5M362.5 383.7h-1.5M46.5 387.9h1.5M362.5 387.9h-1.5" stroke="#909090" stroke-width="0.8" fill="none"/>
<rect x="47.1" y="319" width="54.9" height="69.5" fill="#fff"/>
<rect x="75" y="336.5" width="9.4" height="46.5" fill="url(#cbgc)"/>
<rect x="75" y="336.5" width="9.4" height="46.5" fill="none" stroke="#999" stroke-width="0.6"/>
<text x="73.5" y="348.8" font-size="11" text-anchor="end">1.2</text>
<text x="73.5" y="359.9" font-size="11" text-anchor="end">1.0</text>
<text x="73.5" y="371.8" font-size="11" text-anchor="end">0.8</text>
<text x="73.5" y="383.2" font-size="11" text-anchor="end">0.6</text>
<text x="54.5" y="331" font-size="13" text-anchor="start">&#934;<tspan font-size="8.1" dy="3.6">sim</tspan><tspan dy="-3.6">(eV)</tspan></text>
<path d="M102.5 346.6H355.8" stroke="#f00" stroke-width="2.1" stroke-dasharray="4 2" stroke-dashoffset="0.5" fill="none"/>
<path d="M203.1 334.1h5M205.6 331.6v5" stroke="#fff" stroke-width="1.8"/>
<text x="44.8" y="298.9" font-size="11.5" text-anchor="end">0.1</text>
<text x="44.8" y="341.1" font-size="11.5" text-anchor="end">0.0</text>
<text x="44.8" y="383.4" font-size="11.5" text-anchor="end">-0.1</text>
<text x="53.1" y="399.9" font-size="11.5" text-anchor="middle">-0.6</text>
<text x="103.3" y="399.9" font-size="11.5" text-anchor="middle">-0.4</text>
<text x="153.6" y="399.9" font-size="11.5" text-anchor="middle">-0.2</text>
<text x="204.2" y="399.9" font-size="11.5" text-anchor="middle">0.0</text>
<text x="255" y="399.9" font-size="11.5" text-anchor="middle">0.2</text>
<text x="305.9" y="399.9" font-size="11.5" text-anchor="middle">0.4</text>
<text x="356.6" y="399.9" font-size="11.5" text-anchor="middle">0.6</text>
<text x="203.3" y="416" font-size="13.5" text-anchor="middle"><tspan font-style="italic">x</tspan> (mm)</text>
<text x="27.5" y="337" font-size="13.5" text-anchor="middle" transform="rotate(-90 27.5 337)"><tspan font-style="italic">y</tspan> (mm)</text>
<text x="-0.5" y="11" font-size="16" text-anchor="start">(a)</text>
<text x="-0.5" y="149" font-size="16" text-anchor="start">(b)</text>
<text x="-0.5" y="287" font-size="16" text-anchor="start">(c)</text>
<rect x="424.5" y="5.5" width="160" height="99.5" fill="none" stroke="#b2b2b2" stroke-width="1"/>
<path d="M429.1 105v-3M429.1 5.5v3M435.3 105v-1.6M435.3 5.5v1.6M441.6 105v-1.6M441.6 5.5v1.6M447.8 105v-1.6M447.8 5.5v1.6M454 105v-3M454 5.5v3M460.2 105v-1.6M460.2 5.5v1.6M466.4 105v-1.6M466.4 5.5v1.6M472.7 105v-1.6M472.7 5.5v1.6M478.9 105v-3M478.9 5.5v3M485.1 105v-1.6M485.1 5.5v1.6M491.4 105v-1.6M491.4 5.5v1.6M497.6 105v-1.6M497.6 5.5v1.6M503.8 105v-3M503.8 5.5v3M510 105v-1.6M510 5.5v1.6M516.2 105v-1.6M516.2 5.5v1.6M522.5 105v-1.6M522.5 5.5v1.6M528.7 105v-3M528.7 5.5v3M534.9 105v-1.6M534.9 5.5v1.6M541.1 105v-1.6M541.1 5.5v1.6M547.4 105v-1.6M547.4 5.5v1.6M553.6 105v-3M553.6 5.5v3M559.8 105v-1.6M559.8 5.5v1.6M566 105v-1.6M566 5.5v1.6M572.3 105v-1.6M572.3 5.5v1.6M578.5 105v-3M578.5 5.5v3M424.5 9.6h1.6M584.5 9.6h-1.6M424.5 18h3M584.5 18h-3M424.5 26.4h1.6M584.5 26.4h-1.6M424.5 34.8h1.6M584.5 34.8h-1.6M424.5 43.3h1.6M584.5 43.3h-1.6M424.5 51.7h1.6M584.5 51.7h-1.6M424.5 60.1h3M584.5 60.1h-3M424.5 68.5h1.6M584.5 68.5h-1.6M424.5 76.9h1.6M584.5 76.9h-1.6M424.5 85.4h1.6M584.5 85.4h-1.6M424.5 93.8h1.6M584.5 93.8h-1.6M424.5 102.2h3M584.5 102.2h-3" stroke="#909090" stroke-width="0.8" fill="none"/>
<path d="M429.1 11.8L430.3 15.4L431.6 19L432.8 22.4L434.1 25.7L435.3 28.9L436.6 32L437.8 35L439.1 37.9L440.3 40.7L441.6 43.5L442.8 46.1L444 48.7L445.3 51.2L446.5 53.6L447.8 55.9L449 58.1L450.3 60.3L451.5 62.4L452.8 64.4L454 66.3L455.2 68.2L456.5 70L457.7 71.7L459 73.4L460.2 75L461.5 76.6L462.7 78.1L464 79.5L465.2 80.9L466.4 82.2L467.7 83.5L468.9 84.7L470.2 85.8L471.4 86.9L472.7 88L473.9 89L475.2 89.9L476.4 90.8L477.7 91.7L478.9 92.5L480.1 93.3L481.4 94L482.6 94.7L483.9 95.3L485.1 95.9L486.4 96.5L487.6 97L488.9 97.5L490.1 97.9L491.4 98.3L492.6 98.7L493.8 99L495.1 99.3L496.3 99.5L497.6 99.7L498.8 99.9L500.1 100L501.3 100.1L502.6 100.1L503.8 100.2L505 100.1L506.3 100.1L507.5 100L508.8 99.9L510 99.7L511.3 99.5L512.5 99.3L513.8 99L515 98.7L516.2 98.3L517.5 97.9L518.7 97.5L520 97L521.2 96.5L522.5 95.9L523.7 95.3L525 94.7L526.2 94L527.5 93.3L528.7 92.5L529.9 91.7L531.2 90.8L532.4 89.9L533.7 89L534.9 88L536.2 86.9L537.4 85.8L538.7 84.7L539.9 83.5L541.1 82.2L542.4 80.9L543.6 79.5L544.9 78.1L546.1 76.6L547.4 75L548.6 73.4L549.9 71.7L551.1 70L552.4 68.2L553.6 66.3L554.8 64.4L556.1 62.4L557.3 60.3L558.6 58.1L559.8 55.9L561.1 53.6L562.3 51.2L563.6 48.7L564.8 46.1L566.1 43.5L567.3 40.7L568.5 37.9L569.8 35L571 32L572.3 28.9L573.5 25.7L574.8 22.4L576 19L577.3 15.4L578.5 11.8" stroke="#f00" stroke-width="5.6" stroke-linecap="round" stroke-linejoin="round" fill="none"/>
<text x="421.3" y="21.7" font-size="11.5" text-anchor="end">0.55</text>
<text x="421.3" y="63.7" font-size="11.5" text-anchor="end">0.45</text>
<text x="421.3" y="105.9" font-size="11.5" text-anchor="end">0.35</text>
<text x="450.3" y="116.7" font-size="11.5" text-anchor="middle">-0.4</text>
<text x="503.5" y="116.7" font-size="11.5" text-anchor="middle">0.0</text>
<text x="553.2" y="116.7" font-size="11.5" text-anchor="middle">0.4</text>
<text x="503.8" y="131" font-size="13.5" text-anchor="middle"><tspan font-style="italic">x</tspan> (mm)</text>
<text x="390" y="51.4" font-size="13.5" text-anchor="middle" transform="rotate(-90 390 51.4)">&#934;<tspan font-size="8.4" dy="3.8">sim</tspan><tspan dy="-3.8">(eV)</tspan></text>
<rect x="424.5" y="143.5" width="160" height="99" fill="none" stroke="#b2b2b2" stroke-width="1"/>
<path d="M429.1 242.5v-3M429.1 143.5v3M435.3 242.5v-1.6M435.3 143.5v1.6M441.6 242.5v-1.6M441.6 143.5v1.6M447.8 242.5v-1.6M447.8 143.5v1.6M454 242.5v-3M454 143.5v3M460.2 242.5v-1.6M460.2 143.5v1.6M466.4 242.5v-1.6M466.4 143.5v1.6M472.7 242.5v-1.6M472.7 143.5v1.6M478.9 242.5v-3M478.9 143.5v3M485.1 242.5v-1.6M485.1 143.5v1.6M491.4 242.5v-1.6M491.4 143.5v1.6M497.6 242.5v-1.6M497.6 143.5v1.6M503.8 242.5v-3M503.8 143.5v3M510 242.5v-1.6M510 143.5v1.6M516.2 242.5v-1.6M516.2 143.5v1.6M522.5 242.5v-1.6M522.5 143.5v1.6M528.7 242.5v-3M528.7 143.5v3M534.9 242.5v-1.6M534.9 143.5v1.6M541.1 242.5v-1.6M541.1 143.5v1.6M547.4 242.5v-1.6M547.4 143.5v1.6M553.6 242.5v-3M553.6 143.5v3M559.8 242.5v-1.6M559.8 143.5v1.6M566 242.5v-1.6M566 143.5v1.6M572.3 242.5v-1.6M572.3 143.5v1.6M578.5 242.5v-3M578.5 143.5v3M424.5 153h1.6M584.5 153h-1.6M424.5 160.3h1.6M584.5 160.3h-1.6M424.5 167.7h3M584.5 167.7h-3M424.5 175h1.6M584.5 175h-1.6M424.5 182.4h1.6M584.5 182.4h-1.6M424.5 189.8h1.6M584.5 189.8h-1.6M424.5 197.1h1.6M584.5 197.1h-1.6M424.5 204.4h3M584.5 204.4h-3M424.5 211.8h1.6M584.5 211.8h-1.6M424.5 219.1h1.6M584.5 219.1h-1.6M424.5 226.5h1.6M584.5 226.5h-1.6M424.5 233.8h1.6M584.5 233.8h-1.6M424.5 241.2h3M584.5 241.2h-3" stroke="#909090" stroke-width="0.8" fill="none"/>
<path d="M429.1 150.2L430.3 152L431.6 153.7L432.8 155.5L434.1 157.2L435.3 159L436.6 160.8L437.8 162.5L439.1 164.3L440.3 166.1L441.6 167.9L442.8 169.7L444 171.5L445.3 173.2L446.5 175L447.8 176.8L449 178.6L450.3 180.3L451.5 182.1L452.8 183.8L454 185.6L455.2 187.3L456.5 189L457.7 190.7L459 192.4L460.2 194.1L461.5 195.7L462.7 197.3L464 198.9L465.2 200.5L466.4 202.1L467.7 203.6L468.9 205.1L470.2 206.6L471.4 208L472.7 209.5L473.9 210.8L475.2 212.2L476.4 213.5L477.7 214.7L478.9 216L480.1 217.1L481.4 218.3L482.6 219.4L483.9 220.4L485.1 221.4L486.4 222.3L487.6 223.2L488.9 224L490.1 224.8L491.4 225.5L492.6 226.1L493.8 226.7L495.1 227.2L496.3 227.6L497.6 228L498.8 228.3L500.1 228.6L501.3 228.8L502.6 228.9L503.8 228.9L505 228.9L506.3 228.8L507.5 228.6L508.8 228.3L510 228L511.3 227.6L512.5 227.2L513.8 226.7L515 226.1L516.2 225.5L517.5 224.8L518.7 224L520 223.2L521.2 222.3L522.5 221.4L523.7 220.4L525 219.4L526.2 218.3L527.5 217.1L528.7 216L529.9 214.7L531.2 213.5L532.4 212.2L533.7 210.8L534.9 209.5L536.2 208L537.4 206.6L538.7 205.1L539.9 203.6L541.1 202.1L542.4 200.5L543.6 198.9L544.9 197.3L546.1 195.7L547.4 194.1L548.6 192.4L549.9 190.7L551.1 189L552.4 187.3L553.6 185.6L554.8 183.8L556.1 182.1L557.3 180.3L558.6 178.6L559.8 176.8L561.1 175L562.3 173.2L563.6 171.5L564.8 169.7L566.1 167.9L567.3 166.1L568.5 164.3L569.8 162.5L571 160.8L572.3 159L573.5 157.2L574.8 155.5L576 153.7L577.3 152L578.5 150.2" stroke="#f00" stroke-width="5.6" stroke-linecap="round" stroke-linejoin="round" fill="none"/>
<text x="421.3" y="171.4" font-size="11.5" text-anchor="end">0.40</text>
<text x="421.3" y="208.2" font-size="11.5" text-anchor="end">0.20</text>
<text x="421.3" y="244.9" font-size="11.5" text-anchor="end">0.0</text>
<text x="450.3" y="253.3" font-size="11.5" text-anchor="middle">-0.4</text>
<text x="503.5" y="253.3" font-size="11.5" text-anchor="middle">0.0</text>
<text x="553.2" y="253.3" font-size="11.5" text-anchor="middle">0.4</text>
<text x="503.8" y="265.6" font-size="13.5" text-anchor="middle"><tspan font-style="italic">x</tspan> (mm)</text>
<text x="388" y="187.6" font-size="13.5" text-anchor="middle" transform="rotate(-90 388 187.6)">&#934;<tspan font-size="8.4" dy="3.8">sim</tspan><tspan dy="-3.8">(eV)</tspan></text>
<rect x="424.5" y="284.5" width="160" height="98" fill="none" stroke="#b2b2b2" stroke-width="1"/>
<path d="M429.1 382.5v-3M429.1 284.5v3M435.3 382.5v-1.6M435.3 284.5v1.6M441.6 382.5v-1.6M441.6 284.5v1.6M447.8 382.5v-1.6M447.8 284.5v1.6M454 382.5v-3M454 284.5v3M460.2 382.5v-1.6M460.2 284.5v1.6M466.4 382.5v-1.6M466.4 284.5v1.6M472.7 382.5v-1.6M472.7 284.5v1.6M478.9 382.5v-3M478.9 284.5v3M485.1 382.5v-1.6M485.1 284.5v1.6M491.4 382.5v-1.6M491.4 284.5v1.6M497.6 382.5v-1.6M497.6 284.5v1.6M503.8 382.5v-3M503.8 284.5v3M510 382.5v-1.6M510 284.5v1.6M516.2 382.5v-1.6M516.2 284.5v1.6M522.5 382.5v-1.6M522.5 284.5v1.6M528.7 382.5v-3M528.7 284.5v3M534.9 382.5v-1.6M534.9 284.5v1.6M541.1 382.5v-1.6M541.1 284.5v1.6M547.4 382.5v-1.6M547.4 284.5v1.6M553.6 382.5v-3M553.6 284.5v3M559.8 382.5v-1.6M559.8 284.5v1.6M566 382.5v-1.6M566 284.5v1.6M572.3 382.5v-1.6M572.3 284.5v1.6M578.5 382.5v-3M578.5 284.5v3M424.5 287.7h1.6M584.5 287.7h-1.6M424.5 292.1h1.6M584.5 292.1h-1.6M424.5 296.5h3M584.5 296.5h-3M424.5 300.9h1.6M584.5 300.9h-1.6M424.5 305.3h1.6M584.5 305.3h-1.6M424.5 309.7h1.6M584.5 309.7h-1.6M424.5 314h1.6M584.5 314h-1.6M424.5 318.4h3M584.5 318.4h-3M424.5 322.8h1.6M584.5 322.8h-1.6M424.5 327.2h1.6M584.5 327.2h-1.6M424.5 331.6h1.6M584.5 331.6h-1.6M424.5 336h1.6M584.5 336h-1.6M424.5 340.4h3M584.5 340.4h-3M424.5 344.8h1.6M584.5 344.8h-1.6M424.5 349.1h1.6M584.5 349.1h-1.6M424.5 353.5h1.6M584.5 353.5h-1.6M424.5 357.9h1.6M584.5 357.9h-1.6M424.5 362.3h3M584.5 362.3h-3M424.5 366.7h1.6M584.5 366.7h-1.6M424.5 371.1h1.6M584.5 371.1h-1.6M424.5 375.5h1.6M584.5 375.5h-1.6" stroke="#909090" stroke-width="0.8" fill="none"/>
<path d="M429.1 291L430.3 298.2L431.6 305.1L432.8 311.6L434.1 317.7L435.3 323.6L436.6 329.1L437.8 334.2L439.1 339L440.3 343.5L441.6 347.7L442.8 351.5L444 355.1L445.3 358.3L446.5 361.3L447.8 364L449 366.4L450.3 368.5L451.5 370.4L452.8 372L454 373.4L455.2 374.6L456.5 375.6L457.7 376.4L459 377L460.2 377.4L461.5 377.6L462.7 377.7L464 377.6L465.2 377.4L466.4 377.1L467.7 376.6L468.9 376.1L470.2 375.4L471.4 374.7L472.7 373.9L473.9 373.1L475.2 372.2L476.4 371.3L477.7 370.3L478.9 369.3L480.1 368.3L481.4 367.3L482.6 366.3L483.9 365.4L485.1 364.4L486.4 363.5L487.6 362.6L488.9 361.7L490.1 360.9L491.4 360.1L492.6 359.4L493.8 358.8L495.1 358.2L496.3 357.7L497.6 357.3L498.8 356.9L500.1 356.6L501.3 356.4L502.6 356.3L503.8 356.3L505 356.3L506.3 356.4L507.5 356.6L508.8 356.9L510 357.3L511.3 357.7L512.5 358.2L513.8 358.8L515 359.4L516.2 360.1L517.5 360.9L518.7 361.7L520 362.6L521.2 363.5L522.5 364.4L523.7 365.4L525 366.3L526.2 367.3L527.5 368.3L528.7 369.3L529.9 370.3L531.2 371.3L532.4 372.2L533.7 373.1L534.9 373.9L536.2 374.7L537.4 375.4L538.7 376.1L539.9 376.6L541.1 377.1L542.4 377.4L543.6 377.6L544.9 377.7L546.1 377.6L547.4 377.4L548.6 377L549.9 376.4L551.1 375.6L552.4 374.6L553.6 373.4L554.8 372L556.1 370.4L557.3 368.5L558.6 366.4L559.8 364L561.1 361.3L562.3 358.3L563.6 355.1L564.8 351.5L566.1 347.7L567.3 343.5L568.5 339L569.8 334.2L571 329.1L572.3 323.6L573.5 317.7L574.8 311.6L576 305.1L577.3 298.2L578.5 291" stroke="#f00" stroke-width="5.6" stroke-linecap="round" stroke-linejoin="round" fill="none"/>
<text x="421.3" y="300.2" font-size="11.5" text-anchor="end">0.64</text>
<text x="421.3" y="322.5" font-size="11.5" text-anchor="end">0.62</text>
<text x="421.3" y="344.2" font-size="11.5" text-anchor="end">0.60</text>
<text x="421.3" y="366" font-size="11.5" text-anchor="end">0.58</text>
<text x="450.3" y="394.5" font-size="11.5" text-anchor="middle">-0.4</text>
<text x="503.5" y="394.5" font-size="11.5" text-anchor="middle">0.0</text>
<text x="553.2" y="394.5" font-size="11.5" text-anchor="middle">0.4</text>
<text x="503.8" y="405" font-size="13.5" text-anchor="middle"><tspan font-style="italic">x</tspan> (mm)</text>
<text x="386" y="328.8" font-size="13.5" text-anchor="middle" transform="rotate(-90 386 328.8)">&#934;<tspan font-size="8.4" dy="3.8">sim</tspan><tspan dy="-3.8">(eV)</tspan></text>
</svg>
</body></html>
